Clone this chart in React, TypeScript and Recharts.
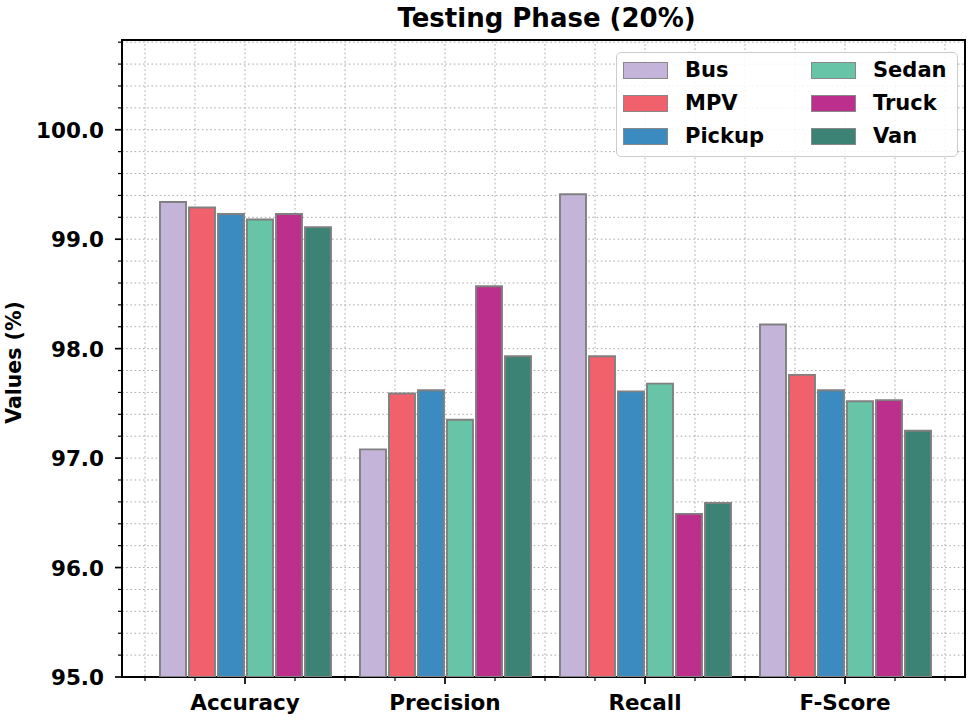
import React from "react";
import {
  BarChart,
  Bar,
  XAxis,
  YAxis,
  CartesianGrid,
  Legend,
  ReferenceArea,
} from "recharts";

// metrics on the x axis
const CATEGORIES = ["Accuracy", "Precision", "Recall", "F-Score"];

// values (%), one array per vehicle class
const BUS = [99.34, 97.08, 99.41, 98.22];
const MPV = [99.29, 97.59, 97.93, 97.76];
const PICKUP = [99.23, 97.62, 97.61, 97.62];
const SEDAN = [99.18, 97.35, 97.68, 97.52];
const TRUCK = [99.23, 98.57, 96.49, 97.53];
const VAN = [99.11, 97.93, 96.59, 97.25];

const SERIES = [
  { key: "Bus", values: BUS, color: "#c5b4da" },
  { key: "MPV", values: MPV, color: "#f0616b" },
  { key: "Pickup", values: PICKUP, color: "#3b8bc0" },
  { key: "Sedan", values: SEDAN, color: "#67c4a6" },
  { key: "Truck", values: TRUCK, color: "#bd2f8d" },
  { key: "Van", values: VAN, color: "#3c8376" },
];

// x ticks: majors on the categories, minors every quarter
const X_TICKS = [-0.5, -0.25, 0, 0.25, 0.5, 0.75, 1, 1.25, 1.5, 1.75, 2, 2.25, 2.5, 2.75, 3, 3.25, 3.5];
// y ticks: majors every 1.0, minors every 0.2
const Y_TICKS = [
  95.0, 95.2, 95.4, 95.6, 95.8, 96.0, 96.2, 96.4, 96.6, 96.8, 97.0, 97.2, 97.4, 97.6, 97.8,
  98.0, 98.2, 98.4, 98.6, 98.8, 99.0, 99.2, 99.4, 99.6, 99.8, 100.0, 100.2, 100.4, 100.6, 100.8,
];

const X_DOMAIN: [number, number] = [-0.615, 3.6];
const Y_DOMAIN: [number, number] = [95, 100.82];

const FONT = '"DejaVu Sans", sans-serif';
const TICK_FONT = 21.5;

const data = CATEGORIES.map((name, i) => {
  const row: Record<string, number | string> = { x: i, name };
  SERIES.forEach((s) => (row[s.key] = s.values[i]));
  return row;
});

const isMajor = (v: number) => Math.abs(v - Math.round(v)) < 1e-6;

// eslint-disable-next-line @typescript-eslint/no-explicit-any
function XTick({ x, y, payload }: any) {
  const v = payload.value;
  const major = isMajor(v);
  return (
    <g>
      <line x1={x} x2={x} y1={y} y2={y + (major ? 7 : 4)} stroke="#000" strokeWidth={major ? 1.7 : 1.2} />
      {major && (
        <text
          x={x}
          y={y + 33}
          textAnchor="middle"
          fontFamily={FONT}
          fontWeight="bold"
          fontSize={TICK_FONT}
          fill="#000"
        >
          {CATEGORIES[Math.round(v)]}
        </text>
      )}
    </g>
  );
}

// eslint-disable-next-line @typescript-eslint/no-explicit-any
function YTick({ x, y, payload }: any) {
  const v = payload.value;
  const major = isMajor(v);
  return (
    <g>
      <line x1={x - (major ? 7 : 4)} x2={x} y1={y} y2={y} stroke="#000" strokeWidth={major ? 1.7 : 1.2} />
      {major && (
        <text
          x={x - 18}
          y={y + 8}
          textAnchor="end"
          fontFamily={FONT}
          fontWeight="bold"
          fontSize={TICK_FONT}
          fill="#000"
        >
          {v.toFixed(1)}
        </text>
      )}
    </g>
  );
}

// eslint-disable-next-line @typescript-eslint/no-explicit-any
function YLabel({ viewBox }: any) {
  const cy = viewBox.y + viewBox.height / 2 + 4;
  return (
    <text
      transform={`translate(21, ${cy}) rotate(-90)`}
      textAnchor="middle"
      fontFamily={FONT}
      fontWeight="bold"
      fontSize={20.5}
      fill="#000"
    >
      Values (%)
    </text>
  );
}

function LegendBox() {
  return (
    <div
      style={{
        position: "relative",
        boxSizing: "border-box",
        width: 342,
        height: 105,
        border: "1px solid #cccccc",
        borderRadius: 5,
        background: "rgba(255,255,255,0.85)",
        fontFamily: FONT,
        fontWeight: "bold",
        fontSize: 21,
        color: "#000",
      }}
    >
      {SERIES.map((s, i) => {
        const col = Math.floor(i / 3);
        const row = i % 3;
        return (
          <div
            key={s.key}
            style={{
              position: "absolute",
              left: 6 + col * 188,
              top: 9 + row * 33,
              display: "flex",
              alignItems: "center",
              height: 17,
              whiteSpace: "nowrap",
            }}
          >
            <span
              style={{
                display: "inline-block",
                width: 45,
                height: 17,
                boxSizing: "border-box",
                background: s.color,
                border: "1.5px solid #888888",
              }}
            />
            <span style={{ marginLeft: 17, lineHeight: "17px" }}>{s.key}</span>
          </div>
        );
      })}
    </div>
  );
}

export default function App() {
  return (
    <div style={{ position: "absolute", left: 0, top: 0, width: 975, height: 720, background: "#fff" }}>
      <div
        style={{
          position: "absolute",
          left: 125,
          top: 5,
          width: 843,
          textAlign: "center",
          fontFamily: FONT,
          fontWeight: "bold",
          fontSize: 26,
          lineHeight: "26px",
          color: "#000",
        }}
      >
        Testing Phase (20%)
      </div>
      <BarChart
        width={975}
        height={720}
        data={data}
        margin={{ top: 40, right: 10, left: 0, bottom: 0 }}
        barSize={26}
        barGap={3}
      >
        <CartesianGrid stroke="#aaaaaa" strokeDasharray="1.6 2.6" strokeWidth={1} />
        <XAxis
          dataKey="x"
          type="number"
          domain={X_DOMAIN}
          allowDataOverflow
          ticks={X_TICKS}
          interval={0}
          height={43}
          tickSize={0}
          tickMargin={0}
          tickLine={false}
          axisLine={false}
          tick={<XTick />}
        />
        <YAxis
          type="number"
          domain={Y_DOMAIN}
          allowDataOverflow
          ticks={Y_TICKS}
          interval={0}
          width={122}
          tickSize={0}
          tickMargin={0}
          tickLine={false}
          axisLine={false}
          tick={<YTick />}
          label={<YLabel />}
        />
        {SERIES.map((s) => (
          <Bar
            key={s.key}
            dataKey={s.key}
            name={s.key}
            fill={s.color}
            stroke="#808080"
            strokeWidth={1.9}
            isAnimationActive={false}
          />
        ))}
        <ReferenceArea
          x1={X_DOMAIN[0]}
          x2={X_DOMAIN[1]}
          y1={Y_DOMAIN[0]}
          y2={Y_DOMAIN[1]}
          fill="none"
          stroke="#000"
          strokeWidth={2}
          ifOverflow="visible"
        />
        <Legend
          layout="horizontal"
          verticalAlign="middle"
          align="center"
          content={<LegendBox />}
          wrapperStyle={{ left: 616, top: 52, width: 342, height: 105 }}
        />
      </BarChart>
    </div>
  );
}
